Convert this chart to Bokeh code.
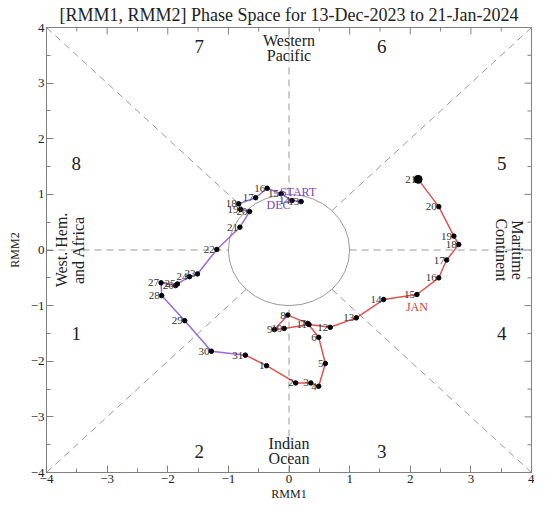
from bokeh.plotting import figure
from bokeh.models import FixedTicker
from bokeh.core.properties import value
from bokeh.embed import file_html
from bokeh.resources import INLINE
import numpy as np

FONT = "Liberation Serif"

# ---- data ----
dec_days = list(range(13, 32))
dec_x = [0.20, 0.05, -0.13, -0.36, -0.55, -0.83, -0.80, -0.65, -0.81, -1.19,
         -1.51, -1.64, -1.84, -1.87, -2.11, -2.10, -1.72, -1.28, -0.72]
dec_y = [0.87, 0.89, 1.01, 1.11, 0.94, 0.83, 0.73, 0.69, 0.41, 0.01,
         -0.43, -0.48, -0.61, -0.64, -0.59, -0.82, -1.27, -1.82, -1.89]

jan_days = list(range(1, 22))
jan_x = [-0.37, 0.11, 0.36, 0.49, 0.60, 0.49, 0.31, -0.02, -0.24, -0.08, 0.33,
         0.68, 1.11, 1.56, 2.11, 2.47, 2.60, 2.80, 2.72, 2.47, 2.13]
jan_y = [-2.08, -2.39, -2.39, -2.45, -2.04, -1.57, -1.32, -1.17, -1.43, -1.41, -1.34,
         -1.39, -1.22, -0.89, -0.80, -0.50, -0.18, 0.10, 0.25, 0.78, 1.27]

ticks = [-4, -3, -2, -1, 0, 1, 2, 3, 4]
minor_ticks = [-3.5, -2.5, -1.5, -0.5, 0.5, 1.5, 2.5, 3.5]
phase_nums = ["7", "6", "8", "5", "1", "4", "2", "3"]
phase_x = [-1.48, 1.53, -3.51, 3.51, -3.51, 3.51, -1.48, 1.53]
phase_y = [3.66, 3.66, 1.55, 1.55, -1.50, -1.50, -3.62, -3.62]

DEC_COLOR = "#9c6ad6"
JAN_COLOR = "#e0524f"
FRAME_COLOR = "#808080"
TEXT_COLOR = "#222222"

p = figure(width=534, height=503, x_range=(-4, 4), y_range=(-4, 4),
           output_backend="svg", toolbar_location=None,
           min_border_left=46, min_border_right=3, min_border_top=0, min_border_bottom=0)
p.grid.visible = False
p.outline_line_color = FRAME_COLOR
p.background_fill_color = "white"

p.title.text = "[RMM1, RMM2] Phase Space for 13-Dec-2023 to 21-Jan-2024"
p.title.align = "center"
p.title.text_font = FONT
p.title.text_font_style = "normal"
p.title.text_font_size = "18px"
p.title.text_color = TEXT_COLOR
p.title.standoff = 5
p.title.offset = 0

for ax in (p.xaxis[0], p.yaxis[0]):
    ax.ticker = FixedTicker(ticks=ticks, minor_ticks=minor_ticks)
    ax.major_tick_in = 7
    ax.major_tick_out = 0
    ax.minor_tick_in = 4
    ax.minor_tick_out = 0
    ax.axis_line_color = FRAME_COLOR
    ax.major_tick_line_color = FRAME_COLOR
    ax.minor_tick_line_color = FRAME_COLOR
    ax.major_label_text_font = FONT
    ax.major_label_text_font_size = "13px"
    ax.major_label_text_color = TEXT_COLOR
    ax.axis_label_text_font = FONT
    ax.axis_label_text_font_size = "12px"
    ax.axis_label_text_font_style = "normal"
    ax.axis_label_text_color = TEXT_COLOR
    ax.major_label_standoff = 2
    ax.axis_label_standoff = 1
p.xaxis.axis_label = "RMM1"
p.yaxis.axis_label = "RMM2"
p.yaxis.axis_label_standoff = 6

# inward tick marks on the top and right edges of the frame
p.scatter(ticks, [4] * len(ticks), marker="dash", angle=np.pi / 2, size=14,
          line_color=FRAME_COLOR, line_width=1)
p.scatter(minor_ticks, [4] * len(minor_ticks), marker="dash", angle=np.pi / 2, size=8,
          line_color=FRAME_COLOR, line_width=1)
p.scatter([4] * len(ticks), ticks, marker="dash", size=14,
          line_color=FRAME_COLOR, line_width=1)
p.scatter([4] * len(minor_ticks), minor_ticks, marker="dash", size=8,
          line_color=FRAME_COLOR, line_width=1)

# dashed phase dividers
DASH_COLOR = "#999999"
r = 1.0
d = r / np.sqrt(2)
seg_x0 = [-4, r, 0, 0, -4, d, -4, d]
seg_y0 = [0, 0, -4, r, -4, d, 4, -d]
seg_x1 = [-r, 4, 0, 0, -d, 4, -d, 4]
seg_y1 = [0, 0, -r, 4, -d, 4, d, -4]
p.segment(seg_x0, seg_y0, seg_x1, seg_y1, line_color=DASH_COLOR,
          line_dash="7 5", line_width=1)
p.ellipse(x=0, y=0, width=2, height=2, fill_color=None, line_color="#999999", line_width=1)

# phase numbers
p.text(phase_x, phase_y, text=phase_nums, text_font=value(FONT), text_font_size="19px",
       text_align="center", text_baseline="middle", text_color=TEXT_COLOR)

# region names
p.text([0, 0], [3.77, 3.50], text=["Western", "Pacific"], text_font=value(FONT),
       text_font_size="16px", text_align="center", text_baseline="middle", text_color=TEXT_COLOR)
p.text([0, 0], [-3.47, -3.74], text=["Indian", "Ocean"], text_font=value(FONT),
       text_font_size="16px", text_align="center", text_baseline="middle", text_color=TEXT_COLOR)
p.text([-3.75, -3.48], [0, 0], text=["West. Hem.", "and Africa"], text_font=value(FONT),
       text_font_size="16px", text_align="center", text_baseline="middle",
       angle=np.pi / 2, text_color=TEXT_COLOR)
p.text([3.77, 3.51], [0, 0], text=["Maritime", "Continent"], text_font=value(FONT),
       text_font_size="16px", text_align="center", text_baseline="middle",
       angle=-np.pi / 2, text_color=TEXT_COLOR)

# paths
p.line(dec_x, dec_y, line_color=DEC_COLOR, line_width=1.5)
p.line([dec_x[-1]] + jan_x, [dec_y[-1]] + jan_y, line_color=JAN_COLOR, line_width=1.5)

# points
p.scatter(dec_x, dec_y, size=4.5, color="black")
p.scatter(jan_x[:-1], jan_y[:-1], size=4.5, color="black")
p.scatter([jan_x[-1]], [jan_y[-1]], size=8, color="black")

# day labels
p.text(dec_x, dec_y, text=[str(d) for d in dec_days], text_font=value(FONT),
       text_font_size="11px", text_align="right", text_baseline="middle",
       x_offset=-2, text_color="#333333")
p.text(jan_x, jan_y, text=[str(d) for d in jan_days], text_font=value(FONT),
       text_font_size="11px", text_align="right", text_baseline="middle",
       x_offset=-2, text_color="#333333")

# month labels
p.text([-0.15], [1.04], text=["START"], text_font=value(FONT), text_font_size="12px",
       text_align="left", text_baseline="middle", text_color="#7a3fc0")
p.text([-0.37], [0.81], text=["DEC"], text_font=value(FONT), text_font_size="12px",
       text_align="left", text_baseline="middle", text_color="#7a3fc0")
p.text([2.11], [-1.03], text=["JAN"], text_font=value(FONT), text_font_size="12px",
       text_align="center", text_baseline="middle", text_color="#d03a3a")

open("out.html", "w").write(file_html(p, INLINE))
